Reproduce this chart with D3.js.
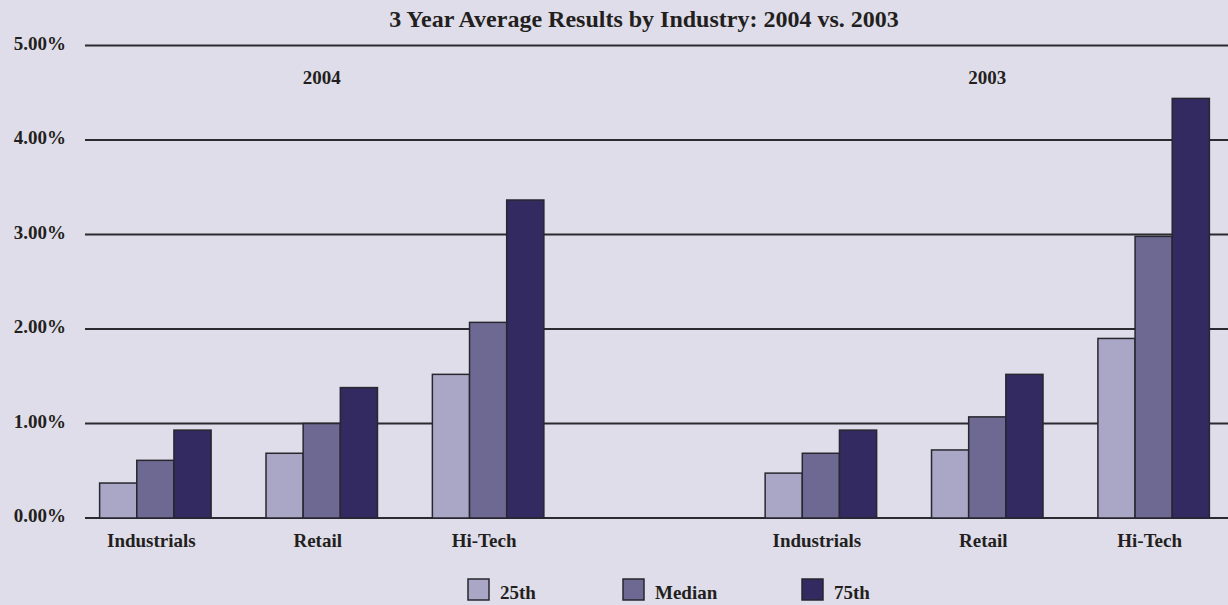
<!DOCTYPE html>
<html lang="en">
<head>
<meta charset="utf-8">
<title>3 Year Average Results by Industry</title>
<script src="https://cdn.jsdelivr.net/npm/d3@7"></script>
<style>
  body { margin: 0; background: #dfdde9; }
  text { font-family: "Liberation Serif", "Times New Roman", serif; font-weight: bold; fill: #231f20; }
</style>
</head>
<body>
<script>
// data
var slots = ["I04", "R04", "H04", "gap", "I03", "R03", "H03"];
var slotLabels = ["Industrials", "Retail", "Hi-Tech", "", "Industrials", "Retail", "Hi-Tech"];
var series = ["25th", "Median", "75th"];
var p25    = [0.37, 0.685, 1.52, null, 0.475, 0.72, 1.90];
var median = [0.61, 1.00, 2.07, null, 0.685, 1.07, 2.98];
var p75    = [0.93, 1.38, 3.365, null, 0.93, 1.52, 4.44];
var yTicks = [0, 1, 2, 3, 4, 5];
var years = [{label: "2004", at: "R04"}, {label: "2003", at: "R03"}];
var colors = ["#a9a7c5", "#6e6993", "#332a61"];

var w = 1228, h = 605;
var svg = d3.select("body").append("svg").attr("width", w).attr("height", h);

var x = d3.scaleBand().domain(slots).range([73, 1236]).paddingInner(0.33).paddingOuter(0.16);
var x1 = d3.scaleBand().domain(series).range([0, x.bandwidth()]);
var y = d3.scaleLinear().domain([0, 5]).range([518, 45.5]);

// title
svg.append("text").attr("x", 644).attr("y", 27).attr("text-anchor", "middle")
  .style("font-size", "24px").text("3 Year Average Results by Industry: 2004 vs. 2003");

// grid lines + y labels
svg.selectAll("line.grid").data(yTicks).enter().append("line")
  .attr("class", "grid")
  .attr("x1", 85).attr("x2", w)
  .attr("y1", function(d) { return y(d); }).attr("y2", function(d) { return y(d); })
  .attr("stroke", "#2b2a30").attr("stroke-width", 2);

svg.selectAll("text.ytick").data(yTicks).enter().append("text")
  .attr("class", "ytick")
  .attr("x", 66).attr("y", function(d) { return y(d) + 4; })
  .attr("text-anchor", "end").style("font-size", "19px")
  .text(function(d) { return d3.format(".2f")(d) + "%"; });

// year labels
svg.selectAll("text.year").data(years).enter().append("text")
  .attr("class", "year")
  .attr("x", function(d) { return x(d.at) + x.bandwidth() / 2; })
  .attr("y", 84).attr("text-anchor", "middle").style("font-size", "19px")
  .text(function(d) { return d.label; });

// bars
var all = [p25, median, p75];
var rows = [];
slots.forEach(function(s, i) {
  series.forEach(function(k, j) {
    if (all[j][i] != null) rows.push({slot: s, key: k, idx: j, v: all[j][i]});
  });
});

svg.selectAll("rect.bar").data(rows).enter().append("rect")
  .attr("class", "bar")
  .attr("x", function(d) { return x(d.slot) + x1(d.key); })
  .attr("y", function(d) { return y(d.v); })
  .attr("width", x1.bandwidth())
  .attr("height", function(d) { return y(0) - y(d.v); })
  .attr("fill", function(d) { return colors[d.idx]; })
  .attr("stroke", "#28262e").attr("stroke-width", 1.5);

// category labels
svg.selectAll("text.cat").data(slots).enter().append("text")
  .attr("class", "cat")
  .attr("x", function(d) { return x(d) + x.bandwidth() / 2 - 4; })
  .attr("y", 547).attr("text-anchor", "middle").style("font-size", "19px")
  .text(function(d, i) { return slotLabels[i]; });

// legend
var legX = [468, 623, 802];
var leg = svg.selectAll("g.leg").data(series).enter().append("g")
  .attr("class", "leg")
  .attr("transform", function(d, i) { return "translate(" + legX[i] + ",579)"; });
leg.append("rect").attr("width", 21).attr("height", 21)
  .attr("fill", function(d, i) { return colors[i]; })
  .attr("stroke", "#28262e").attr("stroke-width", 1.5);
leg.append("text").attr("x", 32).attr("y", 20).style("font-size", "19px")
  .text(function(d) { return d; });
</script>
</body>
</html>
